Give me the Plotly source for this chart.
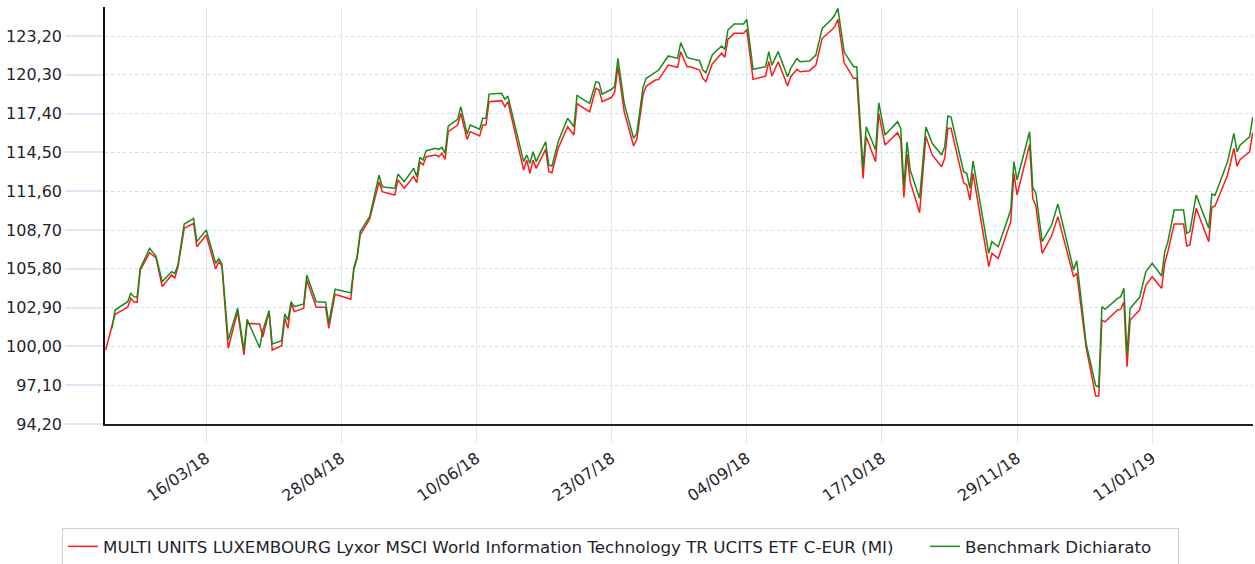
import plotly.graph_objects as go

dates = [
    "2018-02-12", "2018-02-14", "2018-02-15", "2018-02-19", "2018-02-20", "2018-02-21", "2018-02-22", "2018-02-23",
    "2018-02-26", "2018-02-28", "2018-03-02", "2018-03-05", "2018-03-06", "2018-03-07", "2018-03-09", "2018-03-12",
    "2018-03-13", "2018-03-16", "2018-03-19", "2018-03-20", "2018-03-21", "2018-03-23", "2018-03-26", "2018-03-28",
    "2018-03-29", "2018-04-02", "2018-04-03", "2018-04-05", "2018-04-06", "2018-04-09", "2018-04-10", "2018-04-11",
    "2018-04-12", "2018-04-13", "2018-04-16", "2018-04-17", "2018-04-20", "2018-04-23", "2018-04-24", "2018-04-26",
    "2018-05-01", "2018-05-02", "2018-05-03", "2018-05-04", "2018-05-07", "2018-05-10", "2018-05-11", "2018-05-15",
    "2018-05-16", "2018-05-18", "2018-05-21", "2018-05-22", "2018-05-23", "2018-05-24", "2018-05-25", "2018-05-28",
    "2018-05-29", "2018-05-30", "2018-05-31", "2018-06-01", "2018-06-04", "2018-06-05", "2018-06-07", "2018-06-08",
    "2018-06-11", "2018-06-12", "2018-06-13", "2018-06-14", "2018-06-18", "2018-06-19", "2018-06-20", "2018-06-25",
    "2018-06-26", "2018-06-27", "2018-06-28", "2018-06-29", "2018-07-02", "2018-07-03", "2018-07-04", "2018-07-06",
    "2018-07-09", "2018-07-11", "2018-07-12", "2018-07-13", "2018-07-16", "2018-07-18", "2018-07-19", "2018-07-20",
    "2018-07-23", "2018-07-24", "2018-07-25", "2018-07-27", "2018-07-30", "2018-07-31", "2018-08-02", "2018-08-03",
    "2018-08-06", "2018-08-07", "2018-08-10", "2018-08-13", "2018-08-14", "2018-08-16", "2018-08-17", "2018-08-20",
    "2018-08-21", "2018-08-22", "2018-08-24", "2018-08-27", "2018-08-28", "2018-08-29", "2018-08-31", "2018-09-03",
    "2018-09-04", "2018-09-06", "2018-09-10", "2018-09-11", "2018-09-12", "2018-09-14", "2018-09-17", "2018-09-18",
    "2018-09-20", "2018-09-21", "2018-09-24", "2018-09-26", "2018-09-28", "2018-10-01", "2018-10-02", "2018-10-03",
    "2018-10-05", "2018-10-08", "2018-10-09", "2018-10-11", "2018-10-12", "2018-10-15", "2018-10-16", "2018-10-18",
    "2018-10-22", "2018-10-23", "2018-10-24", "2018-10-25", "2018-10-26", "2018-10-29", "2018-10-31", "2018-11-02",
    "2018-11-05", "2018-11-06", "2018-11-07", "2018-11-08", "2018-11-12", "2018-11-13", "2018-11-14", "2018-11-15",
    "2018-11-20", "2018-11-21", "2018-11-23", "2018-11-27", "2018-11-28", "2018-11-29", "2018-12-03", "2018-12-04",
    "2018-12-05", "2018-12-07", "2018-12-10", "2018-12-12", "2018-12-14", "2018-12-17", "2018-12-18", "2018-12-21",
    "2018-12-24", "2018-12-25", "2018-12-26", "2018-12-27", "2018-12-31", "2019-01-01", "2019-01-02", "2019-01-03",
    "2019-01-04", "2019-01-07", "2019-01-09", "2019-01-11", "2019-01-14", "2019-01-15", "2019-01-16", "2019-01-18",
    "2019-01-21", "2019-01-22", "2019-01-23", "2019-01-25", "2019-01-29", "2019-01-30", "2019-01-31", "2019-02-04",
    "2019-02-06", "2019-02-07", "2019-02-08", "2019-02-11", "2019-02-12",
]

fund_values = [
    99.73, 101.5, 102.4, 102.92, 103.59, 103.34, 103.29, 105.71,
    107.0, 106.63, 104.47, 105.34, 105.09, 105.96, 108.83, 109.2,
    107.45, 108.33, 105.78, 106.33, 106.0, 99.86, 102.6, 99.36,
    101.72, 101.67, 100.7, 102.6, 99.73, 100.05, 102.1, 101.35,
    103.22, 102.6, 102.85, 104.96, 102.92, 102.92, 101.35, 103.9,
    103.52, 105.77, 106.58, 108.33, 109.5, 112.3, 111.56, 111.32,
    112.44, 111.82, 112.69, 112.24, 113.8, 113.56, 114.18, 114.31,
    114.18, 114.43, 113.98, 116.05, 116.55, 117.42, 115.48, 116.05,
    115.73, 116.55, 116.55, 118.29, 118.37, 117.92, 118.29, 113.18,
    113.93, 112.94, 113.93, 113.31, 114.73, 113.06, 112.98, 114.81,
    116.42, 115.8, 118.17, 117.97, 117.54, 119.29, 119.16, 118.29,
    118.62, 119.04, 120.91, 117.54, 114.98, 115.48, 118.79, 119.46,
    119.91, 119.96, 121.03, 120.86, 122.03, 120.91, 120.91, 120.66,
    120.04, 119.79, 121.11, 121.91, 121.61, 122.95, 123.4, 123.4,
    123.7, 119.96, 120.21, 121.3, 120.21, 121.28, 119.46, 120.16,
    120.71, 120.53, 120.61, 121.03, 123.03, 123.65, 123.9, 124.45,
    121.2, 120.04, 120.04, 112.56, 115.67, 113.81, 117.42, 115.05,
    115.98, 115.43, 111.14, 114.38, 112.31, 109.99, 115.7, 114.31,
    113.43, 114.06, 116.3, 116.3, 112.24, 112.06, 110.94, 112.94,
    105.96, 106.96, 106.58, 109.32, 112.94, 111.32, 115.1, 111.07,
    110.49, 106.96, 108.25, 109.7, 107.95, 105.21, 105.46, 99.9,
    96.3, 96.29, 101.97, 101.84, 102.72, 102.78, 103.34, 98.49,
    101.97, 102.72, 104.59, 105.21, 104.34, 106.21, 107.08, 109.15,
    109.15, 107.5, 107.58, 110.32, 107.83, 110.4, 110.5, 112.81,
    114.81, 113.48, 113.98, 114.55, 115.98,
]

benchmark_values = [
    None, 101.35, 102.72, 103.34, 103.97, 103.72, 103.67, 105.83,
    107.33, 106.76, 104.84, 105.59, 105.46, 106.08, 109.15, 109.57,
    107.83, 108.7, 106.21, 106.56, 106.16, 100.48, 102.85, 99.73,
    102.02, 99.9, 101.2, 102.67, 100.18, 100.42, 102.42, 101.97,
    103.34, 102.97, 103.17, 105.34, 103.34, 103.3, 101.72, 104.27,
    104.0, 105.9, 106.7, 108.58, 109.7, 112.8, 111.93, 111.81,
    112.88, 112.31, 113.31, 112.69, 114.13, 113.93, 114.63, 114.81,
    114.73, 114.88, 114.43, 116.47, 116.97, 117.92, 115.88, 116.55,
    116.23, 117.05, 117.05, 118.86, 118.92, 118.47, 118.71, 113.81,
    114.31, 113.68, 114.55, 113.81, 115.3, 113.56, 113.48, 115.3,
    117.05, 116.42, 118.79, 118.59, 118.17, 119.79, 119.71, 118.86,
    119.22, 119.46, 121.53, 118.17, 115.55, 115.93, 119.37, 120.04,
    120.53, 120.66, 121.71, 121.53, 122.7, 121.61, 121.53, 121.36,
    120.66, 120.46, 121.78, 122.45, 122.2, 123.65, 124.1, 124.1,
    124.45, 120.71, 120.91, 122.03, 121.03, 122.03, 120.16, 120.79,
    121.53, 121.28, 121.33, 121.78, 123.77, 124.45, 124.77, 125.27,
    122.0, 120.91, 120.91, 113.31, 116.42, 114.68, 118.2, 115.8,
    116.8, 116.3, 111.93, 115.3, 113.18, 111.07, 116.4, 115.18,
    114.31, 114.93, 117.22, 117.15, 113.06, 112.94, 111.81, 113.86,
    106.96, 107.83, 107.45, 110.19, 113.81, 112.44, 116.05, 111.89,
    111.44, 107.83, 109.07, 110.64, 108.7, 105.71, 106.4, 100.2,
    97.1, 96.94, 102.97, 102.77, 103.59, 103.72, 104.34, 99.36,
    102.85, 103.67, 105.59, 106.21, 105.26, 107.08, 107.83, 110.19,
    110.19, 108.45, 108.58, 111.32, 108.83, 111.39, 111.3, 113.81,
    115.93, 114.55, 115.05, 115.67, 117.13,
]

x_tick_dates = ["2018-03-16", "2018-04-28", "2018-06-10", "2018-07-23",
                "2018-09-04", "2018-10-17", "2018-11-29", "2019-01-11"]
x_tick_labels = ["16/03/18", "28/04/18", "10/06/18", "23/07/18",
                 "04/09/18", "17/10/18", "29/11/18", "11/01/19"]

fund_name = "MULTI UNITS LUXEMBOURG Lyxor MSCI World Information Technology TR UCITS ETF C-EUR (MI)"
bench_name = "Benchmark Dichiarato"

FONT = "DejaVu Sans, Verdana, sans-serif"
TEXT = "#1f1f2e"
NBSP = "\u00a0"

fig = go.Figure()
fig.add_trace(go.Scatter(x=dates, y=fund_values, name=fund_name + NBSP * 5, mode="lines",
                         line=dict(color="#ff1a1a", width=1.5)))
fig.add_trace(go.Scatter(x=dates, y=benchmark_values, name=bench_name + NBSP * 4, mode="lines",
                         line=dict(color="#1a8a1a", width=1.5)))

fig.update_layout(
    width=1255, height=564,
    margin=dict(l=105, r=2, t=7, b=140, autoexpand=False),
    paper_bgcolor="white", plot_bgcolor="white",
    separators=", ",
    font=dict(family=FONT, size=16, color=TEXT),
    showlegend=True,
    legend=dict(
        orientation="h",
        xref="container", yref="container",
        x=62 / 1255, xanchor="left",
        y=1 - 528 / 564, yanchor="top",
        bordercolor="#d0d0d0", borderwidth=1,
        bgcolor="white",
        font=dict(family=FONT, size=16.7, color=TEXT),
    ),
)

fig.update_xaxes(
    type="date",
    range=["2018-02-11 19:00", "2019-02-12 02:00"],
    tickmode="array", tickvals=x_tick_dates, ticktext=x_tick_labels,
    tickangle=-35,
    ticks="outside", ticklen=17, tickcolor="#dce8f6", tickwidth=1,
    showgrid=True, gridcolor="#dce8f6", gridwidth=1,
    showline=True, linecolor="#222222", linewidth=2,
    tickfont=dict(family=FONT, size=16, color=TEXT),
    zeroline=False, automargin=False,
)

fig.update_yaxes(
    range=[94.2, 125.37],
    tickmode="linear", tick0=94.2, dtick=2.9, tickformat=".2f",
    ticks="outside", ticklen=38, tickcolor="#dce8f6", tickwidth=2,
    showgrid=True, gridcolor="#cfdff2", gridwidth=1, griddash="dot",
    showline=True, linecolor="#111111", linewidth=1.5,
    tickfont=dict(family=FONT, size=16, color=TEXT),
    zeroline=False, automargin=False,
)

fig.write_html(
    "out.html",
    config={"displayModeBar": False},
    post_script="document.body.style.margin='0';document.body.style.overflow='hidden';",
)
